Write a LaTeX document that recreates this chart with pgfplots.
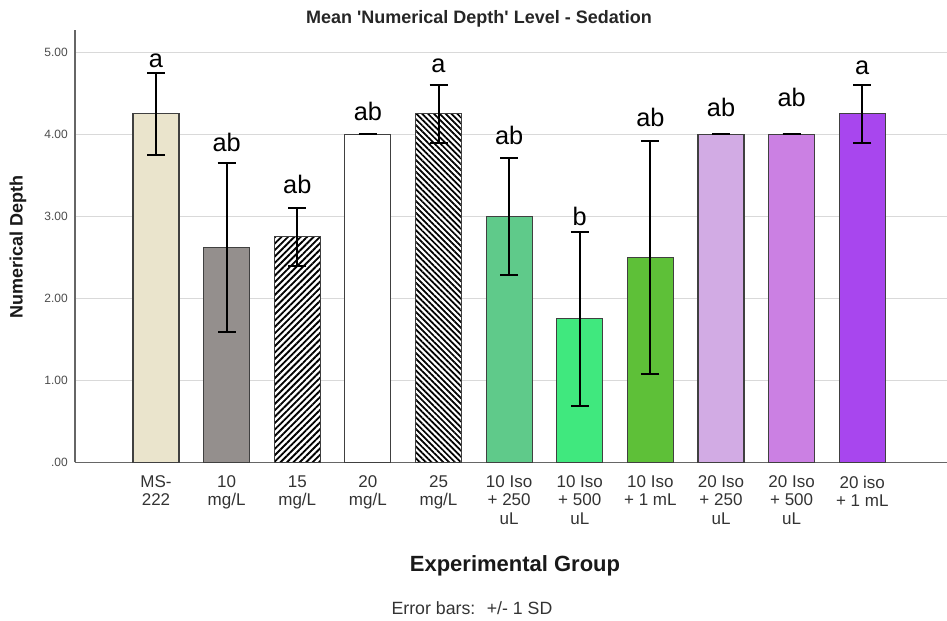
\documentclass[border=0pt]{standalone}
\usepackage{fontspec}
\setmainfont{Liberation Sans}
\usepackage{pgfplots}
\pgfplotsset{compat=1.18}
\usetikzlibrary{patterns.meta}
\definecolor{cMS}{HTML}{EAE4CC}
\definecolor{cTen}{HTML}{948F8D}
\definecolor{cIa}{HTML}{5FCA8A}
\definecolor{cIb}{HTML}{40E87E}
\definecolor{cIc}{HTML}{5EC038}
\definecolor{cJa}{HTML}{D2ABE4}
\definecolor{cJb}{HTML}{CB80E3}
\definecolor{cJc}{HTML}{A846EE}
\definecolor{txt}{HTML}{333333}
\begin{document}
\begin{tikzpicture}
\useasboundingbox (0,0) rectangle (710.25pt,465.75pt);
\begin{axis}[
  at={(56.25pt,118.875pt)}, anchor=south west,
  width=654pt, height=324.375pt, scale only axis,
  xmin=-1.147, xmax=11.2, ymin=0, ymax=5.27,
  axis x line*=bottom, axis y line*=left,
  axis line style={draw=black!60, line width=0.9pt},
  major tick length=0pt,
  ytick={0,1,2,3,4,5}, yticklabels={.00,1.00,2.00,3.00,4.00,5.00},
  xtick={0,1,2,3,4,5,6,7,8,9,10},
  xticklabels={{MS-\\222},{10\\mg/L},{15\\mg/L},{20\\mg/L},{25\\mg/L},{10 Iso\\+ 250\\uL},{10 Iso\\+ 500\\uL},{10 Iso\\+ 1 mL},{20 Iso\\+ 250\\uL},{20 Iso\\+ 500\\uL},{20 iso\\+ 1 mL}},
  xticklabel style={align=center, font=\fontsize{12.75}{13.7}\selectfont, text=txt, inner sep=0pt, yshift=-9.75pt},
  yticklabel style={font=\fontsize{9}{10}\selectfont, text=black!70, inner sep=0pt, xshift=-5.25pt},
  /pgf/number format/assume math mode=true,
  ymajorgrids, grid style={draw=black!15, line width=0.8pt},
  mybar/.style={ybar, bar width=34.5pt, bar shift=0pt, draw=black!75, line width=0.8pt,
    /pgfplots/error bars/y dir=both, /pgfplots/error bars/y explicit,
    /pgfplots/error bars/error mark=|,
    /pgfplots/error bars/error bar style={line width=1.5pt, black},
    /pgfplots/error bars/error mark options={black, line width=1.5pt, mark size=6.75pt}},
]
\addplot[mybar, fill=cMS] coordinates {(0,4.25) +- (0,0.50)};
\addplot[mybar, fill=cTen] coordinates {(1,2.625) +- (0,1.03)};
\addplot[mybar, fill=white, postaction={pattern={Lines[angle=45,distance=3.4pt,line width=1.4pt]}}] coordinates {(2,2.75) +- (0,0.35)};
\addplot[mybar, fill=white] coordinates {(3,4.00) +- (0,0.00)};
\addplot[mybar, fill=white, postaction={pattern={Lines[angle=-45,distance=3.1pt,line width=1.3pt]}}] coordinates {(4,4.25) +- (0,0.354)};
\addplot[mybar, fill=cIa] coordinates {(5,3.00) +- (0,0.71)};
\addplot[mybar, fill=cIb] coordinates {(6,1.75) +- (0,1.06)};
\addplot[mybar, fill=cIc] coordinates {(7,2.50) +- (0,1.42)};
\addplot[mybar, fill=cJa] coordinates {(8,4.00) +- (0,0.00)};
\addplot[mybar, fill=cJb] coordinates {(9,4.00) +- (0,0.00)};
\addplot[mybar, fill=cJc] coordinates {(10,4.25) +- (0,0.354)};
\addplot[only marks, mark=*, mark size=0pt, mark options={draw=none, fill=none},
  nodes near coords, point meta=explicit symbolic,
  every node near coord/.append style={anchor=base, inner sep=0pt, font=\fontsize{19}{19}\selectfont, text=black}]
  coordinates {(0,4.81)[a] (1,3.79)[ab] (2,3.28)[ab] (3,4.17)[ab] (4,4.75)[a] (5,3.87)[ab] (6,2.89)[b] (7,4.09)[ab] (8,4.22)[ab] (9,4.34)[ab] (10,4.73)[a]};
\end{axis}
\node[font=\bfseries\fontsize{13.5}{15}\selectfont, text=black!85] at (359.25pt,451.5pt) {Mean \textquotesingle Numerical Depth\textquotesingle\ Level - Sedation};
\node[font=\bfseries\fontsize{16.5}{18}\selectfont, text=black!90] at (386.25pt,41.25pt) {Experimental Group};
\node[font=\fontsize{13.3}{15}\selectfont, text=txt] at (354pt,9.75pt) {Error bars: \ +/- 1 SD};
\node[font=\bfseries\fontsize{13.5}{15}\selectfont, text=black!90, rotate=90] at (13.5pt,280.5pt) {Numerical Depth};
\end{tikzpicture}
\end{document}
